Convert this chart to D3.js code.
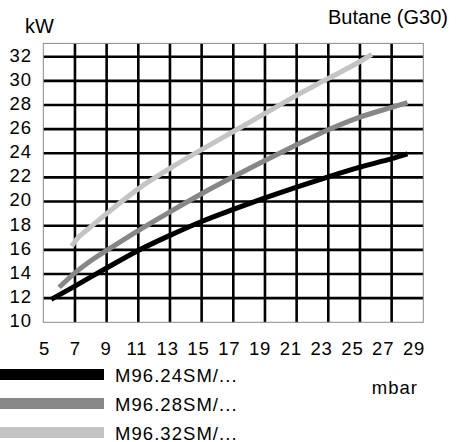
<!DOCTYPE html>
<html>
<head>
<meta charset="utf-8">
<script src="https://cdn.jsdelivr.net/npm/d3@7/dist/d3.min.js"></script>
<style>
  html, body { margin: 0; padding: 0; background: #fff; }
  svg { display: block; font-family: "Liberation Sans", Arial, sans-serif; }
</style>
</head>
<body>
<svg id="chart" width="457" height="442"></svg>
<script>
// Pressure ticks (mbar) and power ticks (kW)
const xTicks = [5, 7, 9, 11, 13, 15, 17, 19, 21, 23, 25, 27, 29];
const yTicks = [10, 12, 14, 16, 18, 20, 22, 24, 26, 28, 30, 32];

// Series names
const seriesNames = ["M96.24SM/...", "M96.28SM/...", "M96.32SM/..."];

// Power vs. pressure curves: [mbar, kW]
const m9624 = [[5.5, 11.9], [7, 13.0], [9, 14.5], [11, 15.95], [13, 17.2], [15, 18.35],
               [17, 19.35], [19, 20.3], [21, 21.2], [23, 22.05], [25, 22.85], [27, 23.55], [28, 23.95]];
const m9628 = [[6, 12.9], [7, 14.1], [8, 15.1], [9, 15.95], [11, 17.6], [13, 19.15], [15, 20.65],
               [17, 22.05], [19, 23.4], [21, 24.7], [23, 25.95], [25, 27.0], [27, 27.8], [28, 28.2]];
const m9632 = [[6.8, 16.3], [7, 16.7], [8, 17.9], [9, 19.0], [11, 21.05], [13, 22.75], [15, 24.3],
               [17, 25.8], [19, 27.3], [21, 28.8], [23, 30.2], [25, 31.6], [25.75, 32.2]];

const seriesData = [m9624, m9628, m9632];
const seriesColors = ["#000000", "#878787", "#c4c4c4"];

const svg = d3.select("#chart");

const x = d3.scaleLinear().domain([5, 29]).range([43.3, 423.3]);
const y = d3.scaleLinear().domain([10, 33.1]).range([322.3, 43.4]);
// tick labels sit on a slightly tighter band than the grid
const xLab = d3.scaleLinear().domain([5, 29]).range([44, 413.5]);

// grid lines
const grid = svg.append("g");
grid.selectAll("line.v").data(xTicks.slice(1, -1)).join("line")
  .attr("x1", d => x(d)).attr("x2", d => x(d))
  .attr("y1", y(33.1)).attr("y2", y(10))
  .attr("stroke", "#000").attr("stroke-width", 2.6);
grid.selectAll("line.h").data(yTicks.slice(1)).join("line")
  .attr("x1", x(5)).attr("x2", x(29))
  .attr("y1", d => y(d)).attr("y2", d => y(d))
  .attr("stroke", "#000").attr("stroke-width", 2.6);

// frame
svg.append("rect")
  .attr("x", x(5)).attr("y", y(33.1))
  .attr("width", x(29) - x(5)).attr("height", y(10) - y(33.1))
  .attr("fill", "none").attr("stroke", "#8a8a8a").attr("stroke-width", 1);

// curves
const line = d3.line().x(d => x(d[0])).y(d => y(d[1])).curve(d3.curveMonotoneX);
svg.append("g").selectAll("path").data(seriesData.map((d, i) => ({ d, i })).reverse()).join("path")
  .attr("d", s => line(s.d))
  .attr("fill", "none")
  .attr("stroke", s => seriesColors[s.i])
  .attr("stroke-width", 5)
  .attr("stroke-linecap", "butt");

// y axis labels
const yAxis = d3.axisLeft(y).tickValues(yTicks).tickSize(0).tickPadding(0).tickFormat(d3.format("d"));
const gy = svg.append("g").attr("transform", "translate(32,-1.5)").call(yAxis);
gy.select(".domain").remove();
gy.selectAll("text").attr("font-size", "18.5px").attr("letter-spacing", "1px")
  .attr("font-family", "Liberation Sans, Arial, sans-serif").attr("fill", "#000");

// x axis labels
const xAxis = d3.axisBottom(xLab).tickValues(xTicks).tickSize(0).tickPadding(0).tickFormat(d3.format("d"));
const gx = svg.append("g").attr("transform", "translate(0,342)").call(xAxis);
gx.select(".domain").remove();
gx.selectAll("text").attr("font-size", "18.5px").attr("letter-spacing", "0.8px")
  .attr("font-family", "Liberation Sans, Arial, sans-serif").attr("fill", "#000");

// titles
svg.append("text").attr("x", 25).attr("y", 33).attr("font-size", "20px").text("kW");
svg.append("text").attr("x", 448).attr("y", 23.5).attr("text-anchor", "end")
  .attr("font-size", "20px").text("Butane (G30)");
svg.append("text").attr("x", 418).attr("y", 393.5).attr("text-anchor", "end")
  .attr("font-size", "18.5px").attr("letter-spacing", "1px").text("mbar");

// legend
const legY = [374.5, 403.5, 432.5];
const leg = svg.append("g").selectAll("g").data(seriesNames).join("g");
leg.append("rect")
  .attr("x", 0).attr("y", (d, i) => legY[i] - 5.5)
  .attr("width", 104).attr("height", 11)
  .attr("fill", (d, i) => seriesColors[i]);
leg.append("text")
  .attr("x", 115).attr("y", (d, i) => legY[i] + 7)
  .attr("font-size", "18.5px").attr("letter-spacing", "1.05px")
  .text(d => d);
</script>
</body>
</html>
